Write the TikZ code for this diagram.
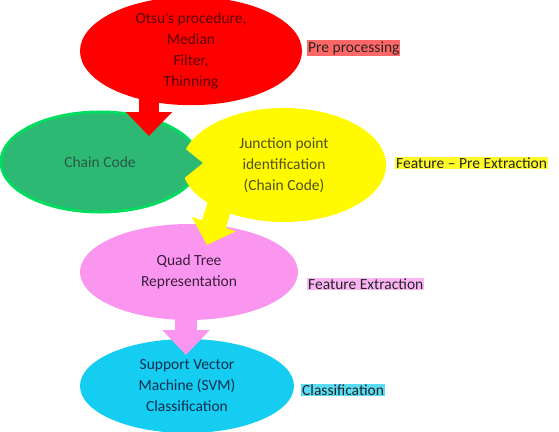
\documentclass[tikz,border=0pt]{standalone}
\usepackage{fontspec}
\setmainfont{Carlito}
\usepackage{xcolor}
\usetikzlibrary{shapes.geometric,arrows.meta,calc}

\definecolor{stepred}{RGB}{255,0,0}
\definecolor{stepgreen}{RGB}{45,185,115}
\definecolor{stepgreenedge}{RGB}{0,220,95}
\definecolor{stepyellow}{RGB}{255,250,0}
\definecolor{steppink}{RGB}{250,150,240}
\definecolor{stepcyan}{RGB}{20,205,240}

\begin{document}
\begin{tikzpicture}[x=1pt,y=-1pt,
  blob/.style={ellipse,inner sep=0pt,align=center,
    font=\fontsize{15.5}{21}\selectfont},
  tag/.style={inner sep=1pt,anchor=west,text=black!85,
    font=\fontsize{15.5}{17}\selectfont},
  blockarrow/.style={line cap=butt}]
\useasboundingbox (0,0) rectangle (559,431);

%% Ellipses %%

\node[blob,fill=stepred,text={rgb,255:red,90;green,0;blue,0},
  minimum width=222pt,minimum height=104pt] (prep) at (191,51)
  {Otsu's procedure,\\Median\\Filter,\\Thinning};

\node[blob,fill=stepgreen,draw=stepgreenedge,line width=3pt,
  text={rgb,255:red,40;green,90;blue,70},
  minimum width=198pt,minimum height=100pt] (chain) at (100,162)
  {Chain Code};

\node[blob,fill=stepyellow,text={rgb,255:red,80;green,80;blue,30},
  minimum width=204pt,minimum height=114pt] (junc) at (284,165)
  {Junction point\\identification\\(Chain Code)};

\node[blob,fill=steppink,text={rgb,255:red,60;green,30;blue,60},
  minimum width=218pt,minimum height=96pt] (quad) at (189,272)
  {Quad Tree\\Representation};

\node[blob,fill=stepcyan,text={rgb,255:red,15;green,45;blue,80},
  minimum width=214pt,minimum height=94pt] (svm) at (187,386)
  {Support Vector\\Machine (SVM)\\Classification};

%% Arrows %%

\draw[blockarrow,stepred,line width=20pt,
  -{Triangle[width=45pt,length=24pt]}]
  ($(prep.center)+(-42,44)$) -- ($(chain.center)+(49,-26)$);

\draw[blockarrow,stepgreen,line width=35pt,
  -{Triangle[width=43pt,length=28pt]}]
  ($(chain.center)+(50,1)$) -- ($(junc.center)+(-81,-2)$);

\draw[blockarrow,stepyellow,line width=25pt,
  -{Triangle[width=45pt,length=22pt]}]
  ($(junc.center)+(-64,40)$) -- ($(quad.center)+(18,-27)$);

\draw[blockarrow,steppink,line width=22pt,
  -{Triangle[width=46pt,length=25pt]}]
  ($(quad.center)+(-3,28)$) -- ($(svm.center)+(-1,-31)$);

%% Labels %%

\node[tag,fill=stepred!60] (preptag) at (307,48) {Pre processing};
\node[tag,fill=stepyellow!85] (junctag) at (395,163) {Feature -- Pre Extraction};
\node[tag,fill=steppink!70] (quadtag) at (307,284) {Feature Extraction};
\node[tag,fill=stepcyan!70] (svmtag) at (301,390) {Classification};

\end{tikzpicture}
\end{document}
